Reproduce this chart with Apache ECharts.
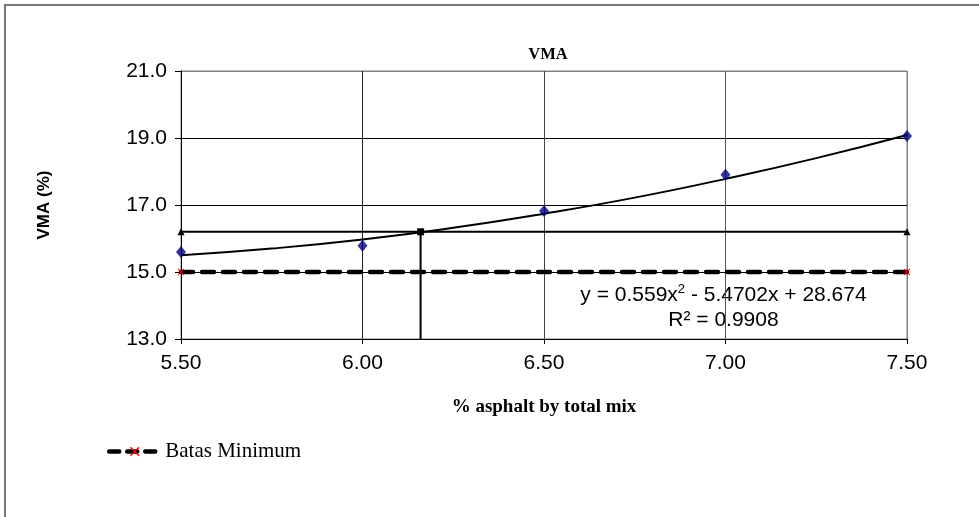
<!DOCTYPE html>
<html>
<head>
<meta charset="utf-8">
<script src="https://cdn.jsdelivr.net/npm/echarts@6/dist/echarts.min.js"></script>
<style>html,body{margin:0;padding:0;background:#fff}#c{width:979px;height:517px}</style>
</head>
<body>
<div id="c"></div>
<script>
// ---- data ----
const asphalt = [5.5, 6.0, 6.5, 7.0, 7.5];
const vma = [15.60, 15.78, 16.82, 17.90, 19.06];
const trendX = [5.5, 5.75, 6.0, 6.25, 6.5, 6.75, 7.0, 7.25, 7.5];
const trendY = [15.50, 15.70, 15.97, 16.32, 16.74, 17.22, 17.78, 18.40, 19.09];
const targetVma = 16.2;
const targetAsphalt = 6.16;
const batasMinimum = 15.0;
const xRange = [5.5, 7.5];
const yRange = [13, 21];
const equationText = 'y = 0.559x{sup|2} - 5.4702x + 28.674';
const r2Text = 'R² = 0.9908';

const serif = '"Liberation Serif", "Times New Roman", serif';
const sans = '"Liberation Sans", Arial, sans-serif';
const crossPath = 'path://M0,1L1,0L5,4L9,0L10,1L6,5L10,9L9,10L5,6L1,10L0,9L4,5Z';

const chart = echarts.init(document.getElementById('c'), null, {renderer: 'canvas'});
const option = {
  animation: false,
  backgroundColor: '#fff',
  title: {
    text: 'VMA', left: 543, top: 41, textAlign: 'center',
    textStyle: {fontFamily: serif, fontSize: 16.5, fontWeight: 'bold', color: '#000'}
  },
  grid: {left: 181, right: 72, top: 71, bottom: 178, show: true, borderColor: '#808080', borderWidth: 1},
  legend: {
    left: 102, top: 436, itemWidth: 51, itemHeight: 12, itemGap: 4,
    data: ['Batas Minimum'],
    lineStyle: {width: 4.5, type: [10, 8], cap: 'round'},
    textStyle: {fontFamily: serif, fontSize: 21, color: '#000'}
  },
  xAxis: {
    type: 'value', min: xRange[0], max: xRange[1], interval: 0.5,
    name: '% asphalt by total mix', nameLocation: 'middle', nameGap: 59,
    nameTextStyle: {fontFamily: serif, fontSize: 19, fontWeight: 'bold', color: '#000'},
    axisLine: {show: true, onZero: false, lineStyle: {color: '#000', width: 1}},
    axisTick: {show: true, length: 5, lineStyle: {color: '#000'}},
    axisLabel: {formatter: v => v.toFixed(2), fontFamily: sans, fontSize: 21, color: '#000', margin: 14},
    splitLine: {show: true, lineStyle: {color: ['#000', '#222', '#444', '#555', '#808080'], width: 1}}
  },
  yAxis: {
    type: 'value', min: yRange[0], max: yRange[1], interval: 2,
    name: 'VMA (%)', nameLocation: 'middle', nameGap: 128,
    nameTextStyle: {fontFamily: sans, fontSize: 17, fontWeight: 'bold', color: '#000'},
    axisLine: {show: true, lineStyle: {color: '#000', width: 1}},
    axisTick: {show: true, length: 6, lineStyle: {color: '#000'}},
    axisLabel: {formatter: v => v.toFixed(1), fontFamily: sans, fontSize: 21, color: '#000', margin: 14},
    splitLine: {show: true, lineStyle: {color: ['#000', '#000', '#000', '#000', '#808080'], width: 1}}
  },
  series: [
    {
      name: 'Batas Minimum', type: 'line',
      data: xRange.map(x => [x, batasMinimum]),
      lineStyle: {color: '#000', width: 4.5, type: [12, 9], cap: 'round'},
      symbol: crossPath, symbolSize: 7, showAllSymbol: true,
      itemStyle: {color: '#ff0000', borderWidth: 0},
      z: 3
    },
    {
      name: 'Trend', type: 'line', smooth: true,
      data: trendX.map((x, i) => [x, trendY[i]]),
      lineStyle: {color: '#000', width: 2}, showSymbol: false, symbol: 'none', z: 4
    },
    {
      name: 'Target', type: 'line',
      data: xRange.map(x => [x, targetVma]),
      lineStyle: {color: '#000', width: 2},
      symbol: 'triangle', symbolSize: 7, itemStyle: {color: '#000'}, z: 4
    },
    {
      name: 'Drop', type: 'line',
      data: [
        {value: [targetAsphalt, targetVma], symbol: 'rect', symbolSize: 7},
        {value: [targetAsphalt, yRange[0]], symbol: 'none'}
      ],
      lineStyle: {color: '#000', width: 2},
      itemStyle: {color: '#000'}, z: 4
    },
    {
      name: 'VMA', type: 'scatter',
      data: asphalt.map((x, i) => [x, vma[i]]),
      symbol: 'diamond', symbolSize: [10, 12], itemStyle: {color: '#000080'}, z: 5
    }
  ],
  graphic: [
    {type: 'rect', shape: {x: 5, y: 5, width: 1100, height: 1100}, style: {fill: 'none', stroke: '#777', lineWidth: 2}, silent: true},
    {type: 'text', id: 'eq', x: 0, y: 0, style: {text: ''}}
  ]
};
chart.setOption(option);
const p = chart.convertToPixel({gridIndex: 0}, [7.0, 14.2]);
chart.setOption({graphic: [
  {}, {
    id: 'eq', type: 'text', x: p[0] - 2, y: p[1] - 16,
    style: {
      text: equationText + '\n' + r2Text, align: 'center', verticalAlign: 'top',
      fontFamily: sans, fontSize: 21, fill: '#000', lineHeight: 25,
      rich: {sup: {fontSize: 13, verticalAlign: 'top', padding: [0, 0, 10, 0], fontFamily: sans}}
    }
  }
]});
</script>
</body>
</html>
